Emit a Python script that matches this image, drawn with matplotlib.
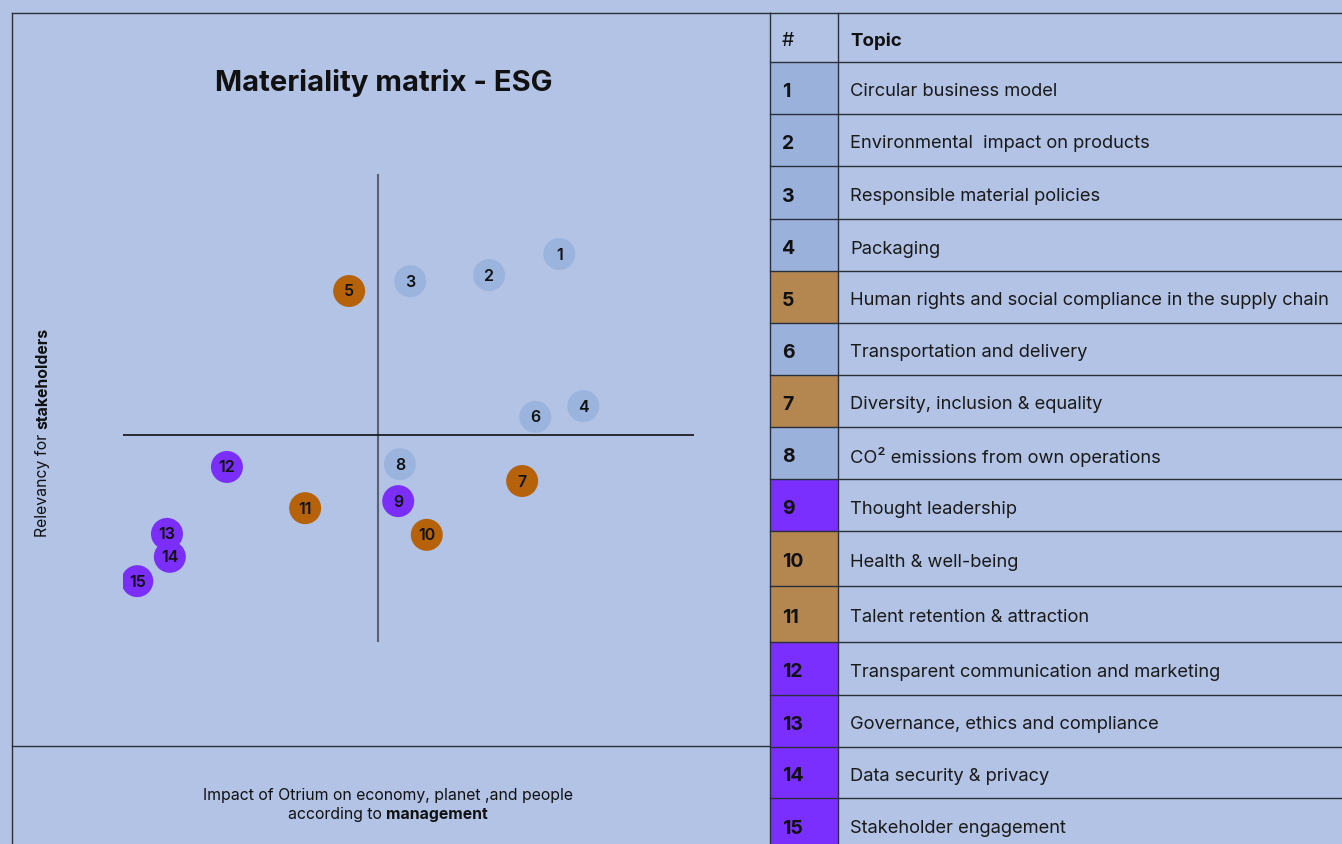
import matplotlib.pyplot as plt
from matplotlib.patches import Rectangle

plt.rcParams['font.family'] = ['Inter', 'DejaVu Sans']

# topic list, category per topic and the two scores (0-10 scale)
topics = [
    'Circular business model',
    'Environmental  impact on products',
    'Responsible material policies',
    'Packaging',
    'Human rights and social compliance in the supply chain',
    'Transportation and delivery',
    'Diversity, inclusion & equality',
    'CO² emissions from own operations',
    'Thought leadership',
    'Health & well-being',
    'Talent retention & attraction',
    'Transparent communication and marketing',
    'Governance, ethics and compliance',
    'Data security & privacy',
    'Stakeholder engagement',
]
groups = ['E', 'E', 'E', 'E', 'S', 'E', 'S', 'E', 'G', 'S', 'S', 'G', 'G', 'G', 'G']
impact = [7.64, 6.41, 5.03, 8.06, 3.96, 7.22, 6.99, 4.85, 4.82, 5.32, 3.19, 1.82, 0.77, 0.82, 0.25]
relevance = [8.29, 7.84, 7.71, 5.04, 7.50, 4.81, 3.44, 3.80, 3.01, 2.29, 2.86, 3.74, 2.31, 1.82, 1.30]
split_x = 4.47
split_y = 4.42

BG = '#b2c3e5'
LINE = '#2b2f3a'
dot_colors = {'E': '#9bb4de', 'S': '#b5620a', 'G': '#7b2ef8'}
cell_colors = {'E': '#9ab1dc', 'S': '#b3874f', 'G': '#7a2fff'}

W, H = 1342, 845
fig = plt.figure(figsize=(W / 100, H / 100), dpi=100)
fig.patch.set_facecolor(BG)

# full-figure axes in pixel units for frame and table
fa = fig.add_axes([0, 0, 1, 1])
fa.set_xlim(0, W)
fa.set_ylim(H, 0)
fa.axis('off')

# left panel frame
fa.plot([12, 12], [14, H], color=LINE, lw=1)
fa.plot([12, 770], [14, 14], color=LINE, lw=1)
fa.plot([12, 770], [747, 747], color=LINE, lw=1)

# table
row_edges = [14, 63, 115, 167, 220, 272, 324, 376, 428, 480, 532, 587, 643, 696, 748, 799, 860]
col_x = [770, 838, W + 5]
for i, t in enumerate(topics):
    y0, y1 = row_edges[i + 1], row_edges[i + 2]
    fa.add_patch(Rectangle((col_x[0], y0), col_x[1] - col_x[0], y1 - y0,
                           facecolor=cell_colors[groups[i]], edgecolor='none'))
    yc = min((y0 + y1) / 2, 826) + 3
    fa.text(782, yc, str(i + 1), fontsize=14, fontweight='bold', color='#111111',
            ha='left', va='center')
    fa.text(850, yc, t, fontsize=13.2, color='#1a1a1a', ha='left', va='center')
for y in row_edges[:-1]:
    fa.plot([col_x[0], W], [y, y], color=LINE, lw=1)
for x in col_x[:2]:
    fa.plot([x, x], [14, H], color=LINE, lw=1)
yh = (row_edges[0] + row_edges[1]) / 2 + 3
fa.text(782, yh, '#', fontsize=14, color='#111111', ha='left', va='center')
fa.text(850, yh, 'Topic', fontsize=13.5, fontweight='bold', color='#111111', ha='left', va='center')

# title and axis captions
fa.text(384, 83, 'Materiality matrix - ESG', fontsize=21, fontweight='bold',
        color='#111111', ha='center', va='center')

t1 = fa.text(43, 537, 'Relevancy for ', fontsize=11.4, rotation=90, color='#111111',
             ha='center', va='bottom')
fa.annotate('stakeholders', xy=(0.5, 1), xycoords=t1, fontsize=11.4, fontweight='bold',
            rotation=90, color='#111111', ha='center', va='bottom')

fa.text(388, 796, 'Impact of Otrium on economy, planet ,and people', fontsize=11.4,
        color='#111111', ha='center', va='center')
fig.canvas.draw()
r = fig.canvas.get_renderer()
a = fa.text(0, 815, 'according to ', fontsize=11.4, color='#111111', ha='left', va='center')
b = fa.text(0, 815, 'management', fontsize=11.4, fontweight='bold', color='#111111',
            ha='left', va='center')
wa = a.get_window_extent(r).width
wb = b.get_window_extent(r).width
x0 = 388 - (wa + wb) / 2
a.set_x(x0)
b.set_x(x0 + wa)

# scatter axes
ax = fig.add_axes([123 / W, (H - 643) / H, 571 / W, 468 / H])
ax.set_xlim(0, 10)
ax.set_ylim(0, 10)
ax.axis('off')
ax.patch.set_alpha(0)
ax.axvline(split_x, color='#5a6272', lw=1.5)
ax.axhline(split_y, color='#111111', lw=1.2)
ax.scatter(impact, relevance, s=530, c=[dot_colors[g] for g in groups],
           edgecolors='none', zorder=3)
for i, (x, y) in enumerate(zip(impact, relevance)):
    ax.text(x, y, str(i + 1), fontsize=11.5, fontweight='semibold', color='#111111',
            ha='center', va='center', zorder=4)

fig.savefig('out.png', dpi=100, facecolor=fig.get_facecolor())
